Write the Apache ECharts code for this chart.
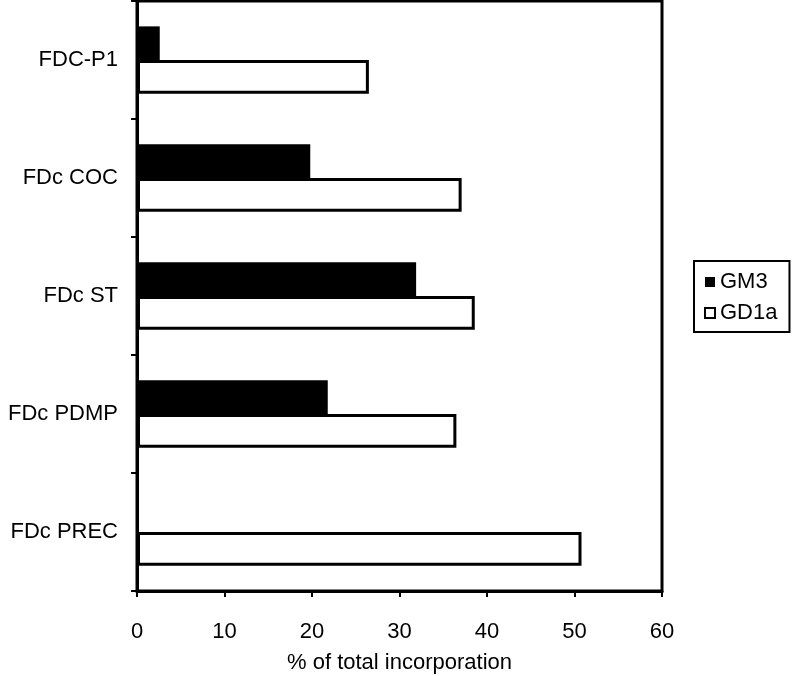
<!DOCTYPE html>
<html>
<head>
<meta charset="utf-8">
<script src="https://cdn.jsdelivr.net/npm/echarts@6/dist/echarts.min.js"></script>
<style>html,body{margin:0;padding:0;background:#fff}#c{width:792px;height:676px}</style>
</head>
<body>
<div id="c"></div>
<script>
var categories = ['FDC-P1', 'FDc COC', 'FDc ST', 'FDc PDMP', 'FDc PREC'];
var gm3 = [2.6, 19.8, 31.9, 21.8, 0];
var gd1a = [26.5, 37.1, 38.6, 36.5, 50.8];
var xTicks = [0, 10, 20, 30, 40, 50, 60];

var FONT = '"Liberation Sans", Arial, sans-serif';
var chart = echarts.init(document.getElementById('c'), null, {renderer: 'canvas'});
chart.setOption({
  animation: false,
  backgroundColor: '#fff',
  textStyle: {fontFamily: FONT, color: '#000'},
  grid: {left: 137, right: 130, top: 1, bottom: 85, show: true, borderColor: '#000', borderWidth: 3,
         backgroundColor: 'transparent', containLabel: false, outerBoundsMode: 'none'},
  legend: {
    orient: 'vertical', left: 694, top: 261,
    padding: [10, 12, 8, 10],
    borderColor: '#000', borderWidth: 2,
    itemWidth: 10, itemHeight: 10, itemGap: 9,
    textStyle: {fontFamily: FONT, fontSize: 22, color: '#000'},
    data: [
      {name: 'GM3', icon: 'rect', itemStyle: {color: '#000', borderWidth: 0}},
      {name: 'GD1a', icon: 'rect', itemStyle: {color: '#fff', borderColor: '#000', borderWidth: 2}}
    ]
  },
  xAxis: {
    type: 'value', min: xTicks[0], max: xTicks[xTicks.length - 1], interval: 10,
    name: '% of total incorporation', nameLocation: 'middle', nameGap: 61,
    nameTextStyle: {fontFamily: FONT, fontSize: 22, color: '#000'},
    axisLine: {show: true, lineStyle: {color: '#000', width: 3}},
    axisTick: {show: true, length: 6, lineStyle: {color: '#000', width: 2}},
    axisLabel: {fontFamily: FONT, fontSize: 22, color: '#000', margin: 30},
    splitLine: {show: false}
  },
  yAxis: {
    type: 'category', data: categories, inverse: true,
    axisLine: {show: true, lineStyle: {color: '#000', width: 3}},
    axisTick: {show: true, length: 6, lineStyle: {color: '#000', width: 2}},
    axisLabel: {fontFamily: FONT, fontSize: 22, color: '#000', margin: 19}
  },
  series: [
    {name: 'GM3', type: 'bar', data: gm3, barGap: '0%', barCategoryGap: '43%',
     itemStyle: {color: '#000'}},
    {name: 'GD1a', type: 'bar', data: gd1a, barGap: '0%', barCategoryGap: '43%',
     itemStyle: {color: '#fff', borderColor: '#000', borderWidth: 3}}
  ]
});
</script>
</body>
</html>
